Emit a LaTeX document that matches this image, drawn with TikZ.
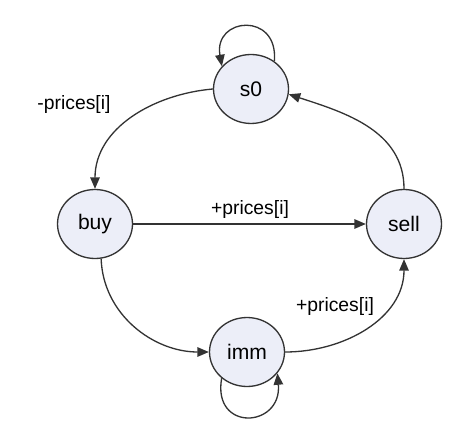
\documentclass[tikz,border=0pt]{standalone}
\usepackage{fontspec}
\setmainfont{Liberation Sans}
\usepackage{tikz}
\usetikzlibrary{arrows.meta, shapes.geometric}
\definecolor{statefill}{RGB}{236,238,248}
\definecolor{statedraw}{RGB}{51,51,51}

\begin{document}
\begin{tikzpicture}[
        x=0.02cm, y=-0.02cm,
        every node/.style={font=\fontsize{11}{13}\selectfont},
        state/.style={ellipse, draw=statedraw, line width=0.75pt, fill=statefill, minimum width=1.5cm, minimum height=1.38cm, inner sep=0pt, font=\fontsize{12}{14}\selectfont},
        arrowstyle/.style={-{Triangle[length=2.3mm, width=1.9mm]}, line width=0.75pt, statedraw}
    ]
        \useasboundingbox (0,0) rectangle (465,445);

        \node[state] (s0) at (251,89) {s0};
        \node[state] (buy) at (95,224) {buy};
        \node[state] (sell) at (404,224) {sell};
        \node[state] (imm) at (247,352) {imm};

        \draw[arrowstyle] (s0.50) .. controls +(85:1cm) and +(100:1cm) .. (s0.142);
        \draw[arrowstyle] (s0.west) to[out=185, in=90] (buy.north);
        \draw[arrowstyle] (buy.east) -- (sell.west);
        \draw[arrowstyle] (buy.-80) to[out=-88, in=180] (imm.west);
        \draw[arrowstyle] (imm.east) to[out=0, in=-90] (sell.south);
        \draw[arrowstyle] (sell.north) to[out=90, in=-18] (s0.-8);
        \draw[arrowstyle] (imm.-134) .. controls +(-100:1.1cm) and +(-85:1.1cm) .. (imm.-35);

        \node (lbuy) at (74,105) {-prices[i]};
        \node (lsell) at (250,210) {+prices[i]};
        \node (limm) at (335,307) {+prices[i]};
    \end{tikzpicture}
\end{document}
